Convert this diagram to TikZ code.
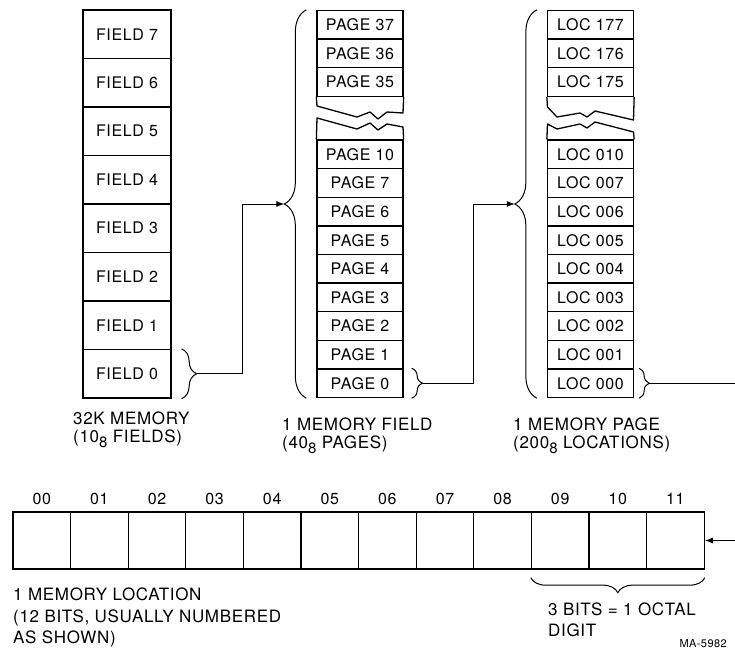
\documentclass[tikz,border=0pt]{standalone}
\usepackage{fontspec}
\setmainfont{TeX Gyre Heros}[LetterSpace=4]
\usetikzlibrary{arrows.meta,calc,decorations.pathreplacing}
\newcommand{\octsub}[1]{\raisebox{-5pt}{\fontsize{15}{15}\selectfont #1}}

\begin{document}
\begin{tikzpicture}[
    x=1pt, y=-1pt,
    font=\fontsize{16}{18}\selectfont,
    cell/.style={draw, line width=1.3pt, inner sep=0pt},
    fieldcell/.style={cell, minimum width=88pt, minimum height=48.5pt},
    pagecell/.style={cell, minimum width=86pt, minimum height=28.6pt},
    bitcell/.style={cell, minimum width=57.6pt, minimum height=57pt},
    caption/.style={font=\fontsize{17}{18}\selectfont, anchor=north west, align=left, inner sep=0pt},
    bitlabel/.style={font=\fontsize{16}{16}\selectfont, anchor=base},
    brk/.style={line width=1.3pt, line join=round},
    bigbrace/.style={decorate, decoration={brace, amplitude=22pt}, line width=1pt},
    smallbrace/.style={decorate, decoration={brace, amplitude=#1}, line width=1pt},
    link/.style={line width=1pt},
    arrow/.style={link, -{Latex[length=8pt, width=6pt]}},
]
    \useasboundingbox (0,0) rectangle (735,651);

    % 32K memory: eight fields
    \foreach \f [count=\i from 0] in {7,6,5,4,3,2,1,0}
        \node[fieldcell] (field\f) at (127, 34.25+48.5*\i) {FIELD \f};
    \node[caption] (cap32k) at (73,412) {32K MEMORY\\(10\octsub{8} FIELDS)};

    % 1 memory field: pages
    \foreach \p [count=\i from 0] in {37,36,35}
        \node[pagecell] (page\p) at (360, 24.8+28.6*\i) {PAGE \p};
    \foreach \p [count=\i from 0] in {10,7,6,5,4,3,2,1,0}
        \node[pagecell] (page\p) at (360, 154.4+28.6*\i) {PAGE \p};
    \draw[brk] (page35.south west) -- (317,106) -- (357,117) -- (370,112)
        -- (378,119) -- (387,112) -- (403,113) -- (page35.south east);
    \draw[brk] (page10.north west) -- (317,118) -- (357,129) -- (370,123)
        -- (378,130) -- (387,124) -- (403,127) -- (page10.north east);
    \node[caption] (capfield) at (282,418) {1 MEMORY FIELD\\(40\octsub{8} PAGES)};

    % 1 memory page: locations
    \foreach \l [count=\i from 0] in {177,176,175}
        \node[pagecell] (loc\l) at (590.5, 24.8+28.6*\i) {LOC \l};
    \foreach \l [count=\i from 0] in {010,007,006,005,004,003,002,001,000}
        \node[pagecell] (loc\l) at (590.5, 154.4+28.6*\i) {LOC \l};
    \draw[brk] (loc175.south west) -- (547.5,107) -- (557,117) -- (580,113)
        -- (587,117) -- (595,111) -- (633.5,120) -- (loc175.south east);
    \draw[brk] (loc010.north west) -- (547.5,124) -- (557,129) -- (580,124)
        -- (587,128) -- (595,122) -- (633.5,132) -- (loc010.north east);
    \node[caption] (cappage) at (513,418) {1 MEMORY PAGE\\(200\octsub{8} LOCATIONS)};

    % braces
    \draw[smallbrace=15pt] ([xshift=10pt]field0.north east) -- ([xshift=10pt]field0.south east);
    \coordinate (fieldtip) at ([xshift=25pt]field0.east);
    \draw[bigbrace] ([xshift=-10pt]page0.south west) -- ([xshift=-10pt]page37.north west);
    \coordinate (pagein) at ($(page37.north west)!0.5!(page0.south west) + (-32,0)$);
    \draw[smallbrace=11pt] ([xshift=8pt]page0.north east) -- ([xshift=8pt]page0.south east);
    \coordinate (pagetip) at ([xshift=19pt]page0.east);
    \draw[bigbrace] ([xshift=-10pt]loc000.south west) -- ([xshift=-10pt]loc177.north west);
    \coordinate (locin) at ($(loc177.north west)!0.5!(loc000.south west) + (-32,0)$);
    \draw[smallbrace=10pt] ([xshift=5pt]loc000.north east) -- ([xshift=5pt]loc000.south east);
    \coordinate (loctip) at ([xshift=15pt]loc000.east);

    % 1 memory location: twelve bits
    \foreach \b [count=\i from 0] in {00,01,02,03,04,05,06,07,08,09,10,11} {
        \node[bitcell] (bit\b) at (41.8+57.6*\i, 540.5) {};
        \node[bitlabel] (lbl\b) at ([yshift=7pt]bit\b.north) {\b};
    }
    \draw[smallbrace=15pt] ([yshift=-8pt]bit11.south east) -- ([yshift=-8pt]bit09.south west);
    \node[caption, font=\fontsize{17}{21.5}\selectfont] (caploc) at (13,588)
        {1 MEMORY LOCATION\\(12 BITS, USUALLY NUMBERED\\AS SHOWN)};
    \node[caption, font=\fontsize{17}{20.5}\selectfont] (capoctal) at (548,603)
        {3 BITS = 1 OCTAL\\DIGIT};
    \node[anchor=base west, font=\fontsize{11}{11}\selectfont] (tag) at (676,647) {MA-5982};

    % connectors
    \draw[arrow] (fieldtip) -- ++(46,0) |- (pagein);
    \draw[arrow] (pagetip) -- ++(51,0) |- (locin);
    \draw[arrow] (loctip) -- ++(110,0) |- (bit11.east);
\end{tikzpicture}
\end{document}
